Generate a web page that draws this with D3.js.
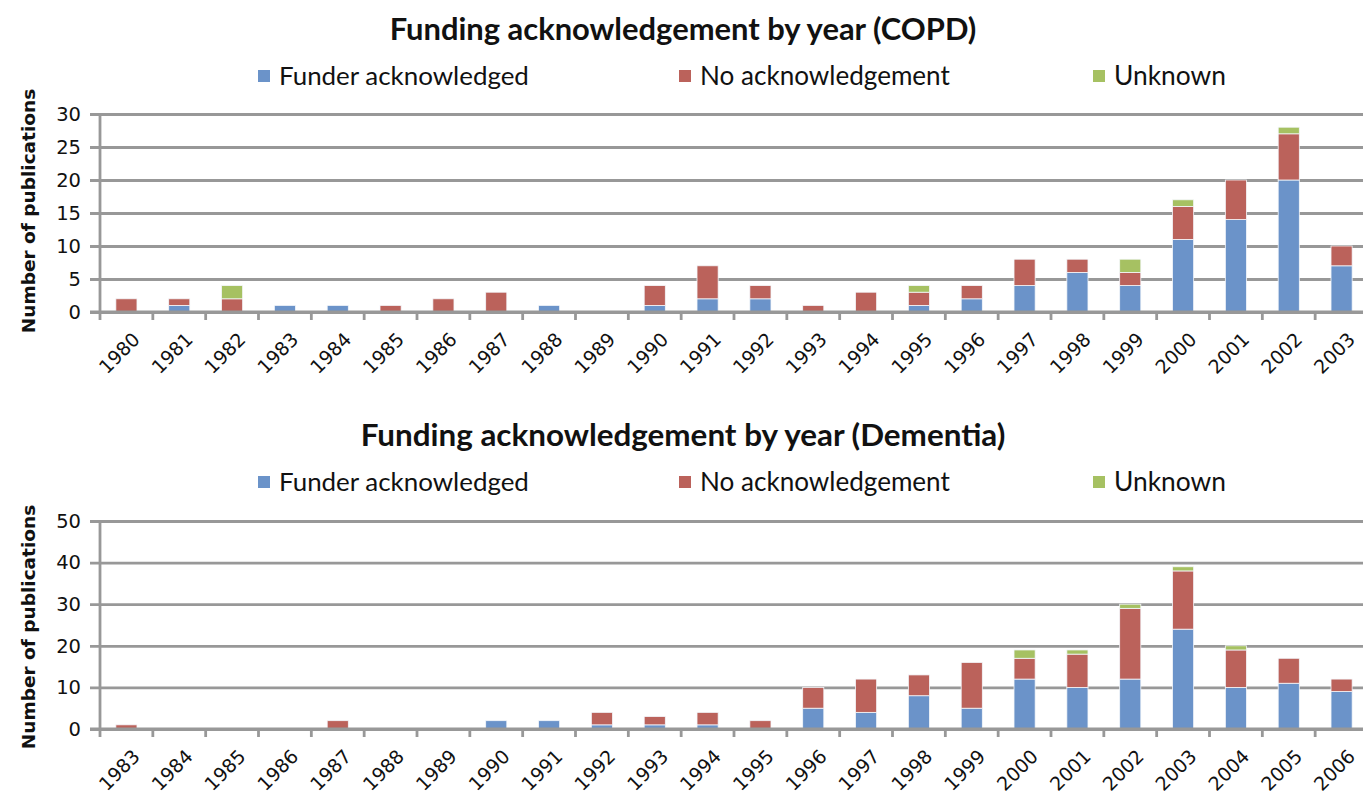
<!DOCTYPE html>
<html><head><meta charset="utf-8">
<script src="https://cdn.jsdelivr.net/npm/d3@7"></script>
<style>body{margin:0;background:#fff}svg{display:block}</style></head>
<body>
<svg id="c" width="1363" height="797"></svg>
<script>
// ---------- DATA ----------
const seriesNames = ["Funder acknowledged", "No acknowledgement", "Unknown"];
const seriesColors = ["#6b93c9", "#bb625b", "#a6c162"];

const copdTitle = "Funding acknowledgement by year (COPD)";
const copdYears = ["1980","1981","1982","1983","1984","1985","1986","1987","1988","1989","1990","1991","1992","1993","1994","1995","1996","1997","1998","1999","2000","2001","2002","2003"];
const copdFunded  = [0,1,0,1,1,0,0,0,1,0,1,2,2,0,0,1,2,4,6,4,11,14,20,7];
const copdNoAck   = [2,1,2,0,0,1,2,3,0,0,3,5,2,1,3,2,2,4,2,2,5,6,7,3];
const copdUnknown = [0,0,2,0,0,0,0,0,0,0,0,0,0,0,0,1,0,0,0,2,1,0,1,0];
const copdTicks = [0,5,10,15,20,25,30];

const demTitle = "Funding acknowledgement by year (Dementia)";
const demYears = ["1983","1984","1985","1986","1987","1988","1989","1990","1991","1992","1993","1994","1995","1996","1997","1998","1999","2000","2001","2002","2003","2004","2005","2006"];
const demFunded  = [0,0,0,0,0,0,0,2,2,1,1,1,0,5,4,8,5,12,10,12,24,10,11,9];
const demNoAck   = [1,0,0,0,2,0,0,0,0,3,2,3,2,5,8,5,11,5,8,17,14,9,6,3];
const demUnknown = [0,0,0,0,0,0,0,0,0,0,0,0,0,0,0,0,0,2,1,1,1,1,0,0];
const demTicks = [0,10,20,30,40,50];

const yTitle = "Number of publications";

// ---------- DRAW ----------
const svg = d3.select("#c");
const gridColor = "#989898";

function fitText(sel, target) {
  const w = sel.node().getComputedTextLength();
  const fs = parseFloat(sel.attr("font-size"));
  sel.attr("font-size", (fs * target / w).toFixed(2));
}

function drawChart(cfg) {
  const g = svg.append("g");
  const keys = ["f","n","u"];
  const rows = cfg.years.map((y,i) => ({year:y, f:cfg.funded[i], n:cfg.noack[i], u:cfg.unknown[i]}));
  const stacked = d3.stack().keys(keys)(rows);

  const x = d3.scaleBand().domain(cfg.years).range([100, 1368]).padding(0);
  const y = d3.scaleLinear().domain([0, d3.max(cfg.ticks)]).range([cfg.y0, cfg.yTop]);

  // title
  const t = g.append("text").attr("x", 683).attr("y", cfg.titleY)
    .attr("text-anchor","middle").attr("font-family","Lato, 'Open Sans', sans-serif")
    .attr("font-weight","bold").attr("font-size",26).attr("fill","#111").text(cfg.title);
  fitText(t, cfg.titleW);

  // legend
  const legX = [258, 679, 1093];
  seriesNames.forEach((name,i) => {
    g.append("rect").attr("x", legX[i]).attr("y", cfg.legY-6).attr("width",12).attr("height",12)
      .attr("fill", seriesColors[i]);
    const lt = g.append("text").attr("x", legX[i]+21).attr("y", cfg.legY).attr("dy","0.35em")
      .attr("font-family","Lato, 'Open Sans', sans-serif").attr("font-size",24).attr("fill","#111").text(name);
    fitText(lt, [250, 250, 112][i]);
  });

  // gridlines (including ticks to the left)
  const yAxis = d3.axisLeft(y).tickValues(cfg.ticks).tickSize(-(1363-100)).tickFormat(d3.format("d")).tickPadding(0);
  const ya = g.append("g").attr("transform","translate(100,0)").call(yAxis);
  ya.select(".domain").remove();
  ya.selectAll(".tick line").attr("stroke", gridColor).attr("stroke-width", 2.8).attr("x1", -10);
  ya.selectAll(".tick text").attr("x", -19).attr("font-family","'DejaVu Sans', sans-serif")
    .attr("font-size", 19.5).attr("fill","#111");

  // vertical axis line
  g.append("line").attr("x1",100).attr("x2",100).attr("y1", cfg.yTop).attr("y2", cfg.y0+8)
    .attr("stroke", gridColor).attr("stroke-width", 2.8);

  // bars
  const bw = x.bandwidth()*0.4;
  stacked.forEach((layer, li) => {
    g.append("g").selectAll("rect").data(layer).join("rect")
      .attr("x", d => x(d.data.year) + (x.bandwidth()-bw)/2)
      .attr("width", bw)
      .attr("y", d => y(d[1]))
      .attr("height", d => Math.max(0, y(d[0]) - y(d[1])))
      .attr("fill", seriesColors[li])
      .attr("stroke", "#f4f7fb").attr("stroke-width", 0.8)
      .attr("display", d => d[1]-d[0] > 0 ? null : "none");
  });

  // x axis line & boundary ticks
  g.append("line").attr("x1",90).attr("x2",1363).attr("y1", cfg.y0).attr("y2", cfg.y0)
    .attr("stroke", gridColor).attr("stroke-width", 2.8);
  const bounds = cfg.years.map(d => x(d)).concat([x.range()[1]]);
  g.append("g").selectAll("line").data(bounds.slice(1)).join("line")
    .attr("x1", d=>d).attr("x2", d=>d).attr("y1", cfg.y0).attr("y2", cfg.y0+8)
    .attr("stroke", gridColor).attr("stroke-width", 2.8);

  // x labels
  g.append("g").selectAll("text").data(cfg.years).join("text")
    .attr("transform", d => `translate(${x(d)+x.bandwidth()/2+10},${cfg.y0+24}) rotate(-45)`)
    .attr("text-anchor","end").attr("dy","0.35em")
    .attr("font-family","'DejaVu Sans', sans-serif").attr("font-size",19).attr("fill","#111")
    .text(d=>d);

  // y title
  g.append("text")
    .attr("transform", `translate(${cfg.yTitleX},${cfg.yTitleY}) rotate(-90)`)
    .attr("text-anchor","middle").attr("font-family","'DejaVu Sans', sans-serif")
    .attr("font-weight","bold").attr("font-size",18.5).attr("fill","#111").text(yTitle);
}

drawChart({title: copdTitle, titleY: 40, titleW: 587, legY: 76,
  years: copdYears, funded: copdFunded, noack: copdNoAck, unknown: copdUnknown,
  ticks: copdTicks, y0: 312, yTop: 114, yTitleX: 35, yTitleY: 211});
drawChart({title: demTitle, titleY: 446, titleW: 645, legY: 482,
  years: demYears, funded: demFunded, noack: demNoAck, unknown: demUnknown,
  ticks: demTicks, y0: 729, yTop: 521, yTitleX: 35, yTitleY: 627});
</script>
</body></html>
